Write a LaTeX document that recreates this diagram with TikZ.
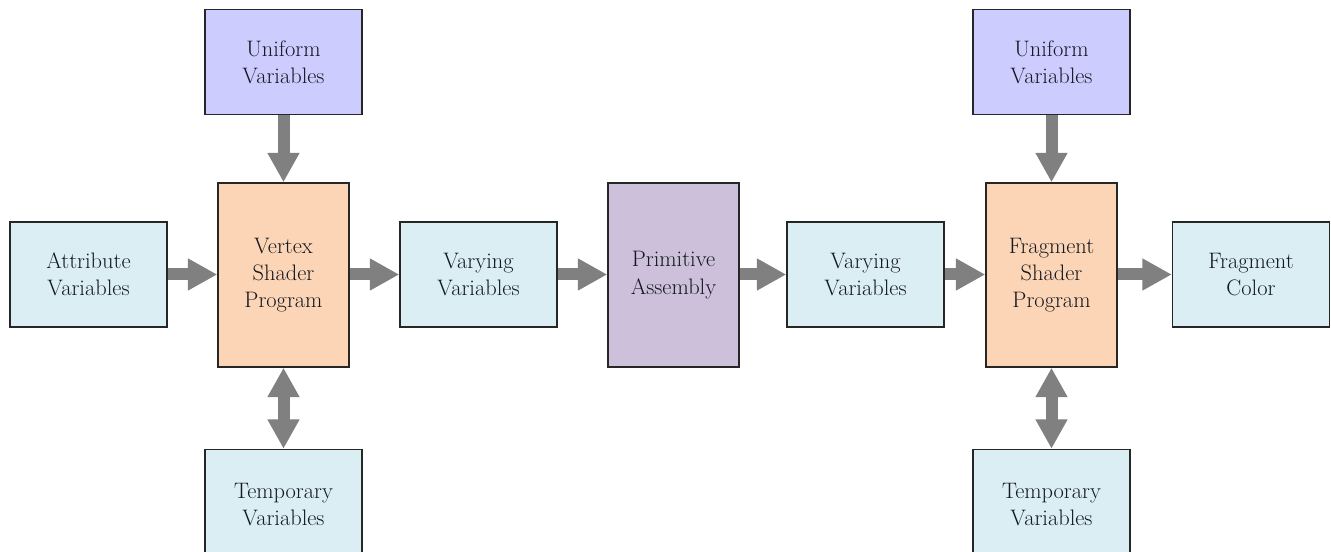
\documentclass[tikz,border=0pt]{standalone}
\usepackage{fontspec}
\usetikzlibrary{arrows.meta}
\definecolor{lblue}{HTML}{DAEEF3}
\definecolor{lorange}{HTML}{FBD5B5}
\definecolor{lviolet}{HTML}{CCCCFF}
\definecolor{lpurple}{HTML}{CCC0DA}
\definecolor{arrgray}{HTML}{808080}
\definecolor{txt}{HTML}{141820}
\tikzset{
  box/.style={draw=black!85, line width=1.1pt, align=center, text=txt,
    font=\rmfamily\fontsize{16.8pt}{20.5pt}\selectfont, inner sep=0pt},
  varbox/.style={box, fill=lblue, minimum width=117.75pt, minimum height=78.75pt},
  unibox/.style={box, fill=lviolet, minimum width=117.75pt, minimum height=78.75pt},
  tmpbox/.style={box, fill=lblue, minimum width=117.75pt, minimum height=82.5pt},
  shbox/.style={box, fill=lorange, minimum width=98.25pt, minimum height=138pt},
  pabox/.style={box, fill=lpurple, minimum width=98.25pt, minimum height=138pt},
  arr/.style={draw=arrgray, line width=9pt, -{Triangle[length=22pt,width=22.5pt,fill=arrgray]}},
  darr/.style={draw=arrgray, line width=9pt, {Triangle[length=22pt,width=22.5pt,fill=arrgray]}-{Triangle[length=22pt,width=22.5pt,fill=arrgray]}}
}
\begin{document}
\begin{tikzpicture}[x=0.75pt,y=-0.75pt]
\useasboundingbox (0,0) rectangle (1331,552);
\clip (0,0) rectangle (1331,552);
\node[varbox] (attr) at (88.5,274.5) {Attribute\\Variables};
\node[shbox] (vs) at (283.5,275) {Vertex\\Shader\\Program};
\node[unibox] (uni1) at (283.5,62) {Uniform\\Variables};
\node[tmpbox] (tmp1) at (283.5,504.5) {Temporary\\Variables};
\node[varbox] (var1) at (478.5,274.5) {Varying\\Variables};
\node[pabox] (pa) at (673.5,275) {Primitive\\Assembly};
\node[varbox] (var2) at (865.5,274.5) {Varying\\Variables};
\node[shbox] (fs) at (1051.5,275) {Fragment\\Shader\\Program};
\node[unibox] (uni2) at (1051.5,62) {Uniform\\Variables};
\node[tmpbox] (tmp2) at (1051.5,504.5) {Temporary\\Variables};
\node[varbox] (fc) at (1251,274.5) {Fragment\\Color};
\draw[arr] (attr.east) -- (attr.east -| vs.west);
\draw[arr] (vs.east |- var1.west) -- (var1.west);
\draw[arr] (var1.east) -- (var1.east -| pa.west);
\draw[arr] (pa.east |- var2.west) -- (var2.west);
\draw[arr] (var2.east) -- (var2.east -| fs.west);
\draw[arr] (fs.east |- fc.west) -- (fc.west);
\draw[arr] (uni1.south) -- (vs.north);
\draw[arr] (uni2.south) -- (fs.north);
\draw[darr] (vs.south) -- (tmp1.north);
\draw[darr] (fs.south) -- (tmp2.north);
\end{tikzpicture}
\end{document}
